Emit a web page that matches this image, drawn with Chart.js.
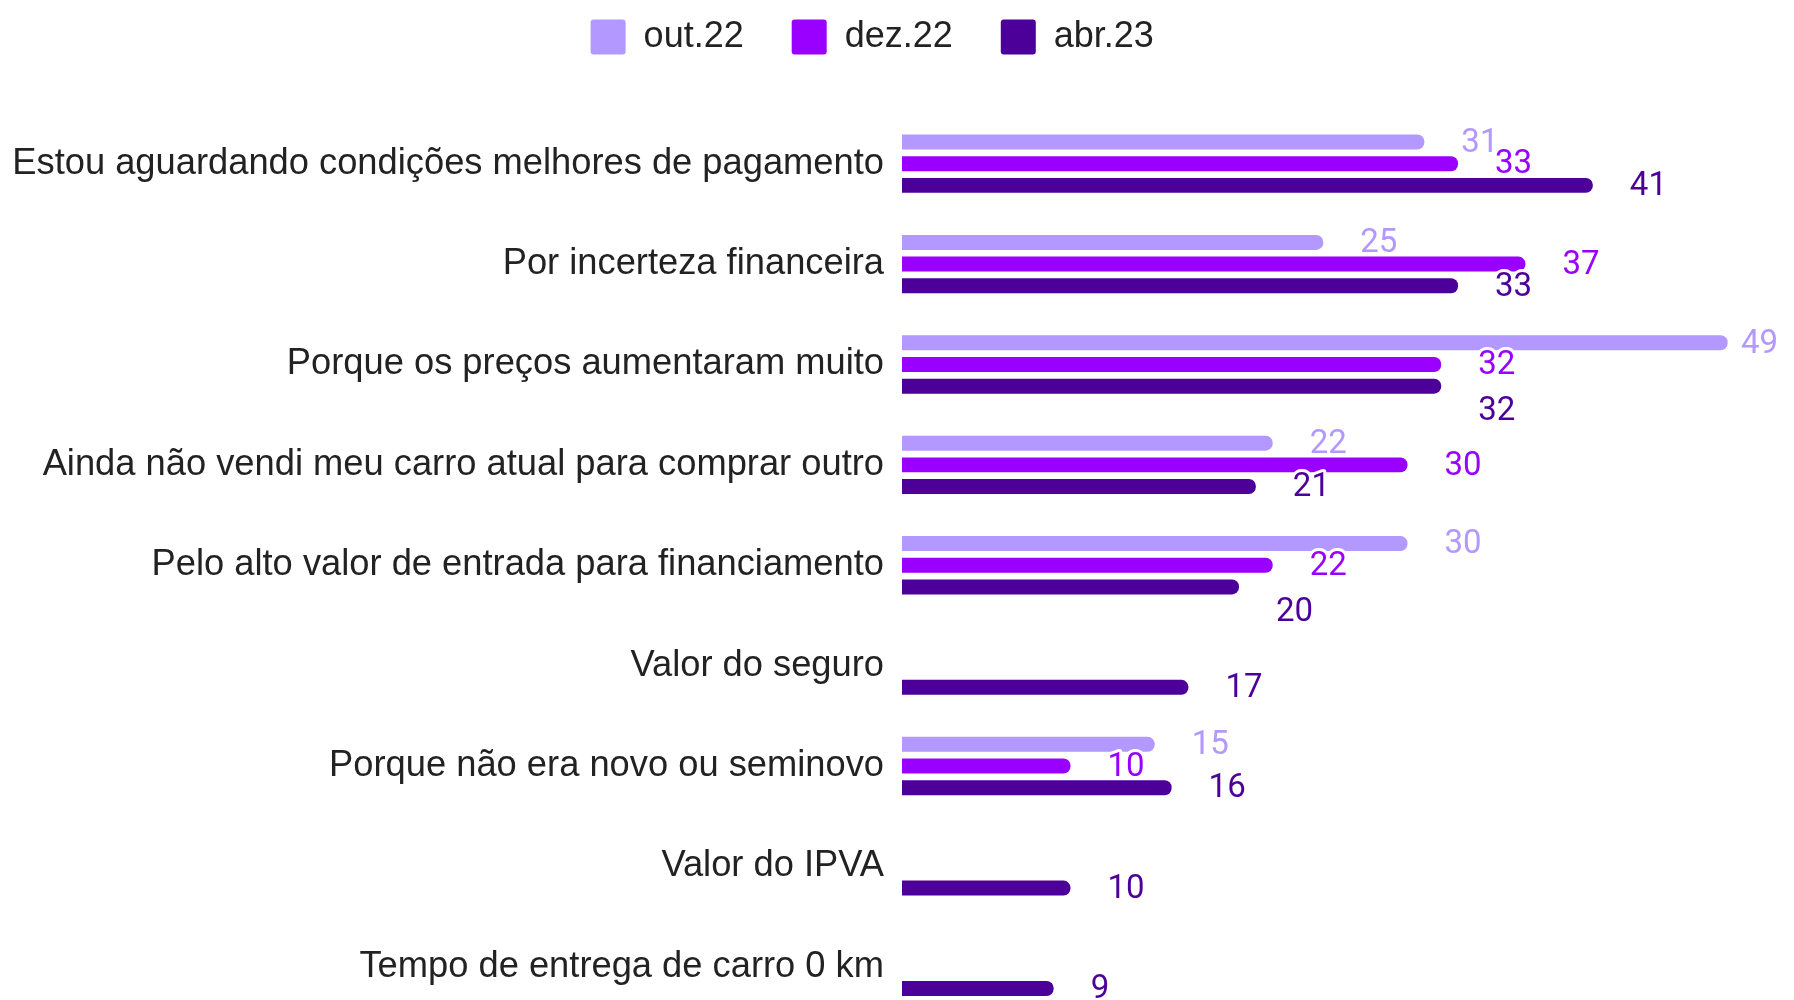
<!DOCTYPE html>
<html>
<head>
<meta charset="utf-8">
<script src="https://cdn.jsdelivr.net/npm/chart.js@4"></script>
<style>
  html, body { margin: 0; padding: 0; background: #fff; overflow: hidden; height: 1000px; }
  #wrap { position: relative; width: 1794px; height: 1017px; }
</style>
</head>
<body>
<div id="wrap"><canvas id="chart"></canvas></div>
<script>
const categories = [
    "Estou aguardando condições melhores de pagamento",
    "Por incerteza financeira",
    "Porque os preços aumentaram muito",
    "Ainda não vendi meu carro atual para comprar outro",
    "Pelo alto valor de entrada para financiamento",
    "Valor do seguro",
    "Porque não era novo ou seminovo",
    "Valor do IPVA",
    "Tempo de entrega de carro 0 km"
];
const seriesNames = ["out.22", "dez.22", "abr.23"];
const out22 = [31, 25, 49, 22, 30, null, 15, null, null];
const dez22 = [33, 37, 32, 30, 22, null, 10, null, null];
const abr23 = [41, 33, 32, 21, 20, 17, 16, 10, 9];
const colors = ["#b399ff", "#9900ff", "#4c0099"];

// rótulos de valor com contorno branco; desce o rótulo quando bate no anterior
const valueLabels = {
    id: 'valueLabels',
    afterDatasetsDraw(chart) {
        const ctx = chart.ctx;
        ctx.save();
        ctx.font = '33px Roboto';
        ctx.textAlign = 'left';
        ctx.textBaseline = 'middle';
        ctx.lineJoin = 'round';
        const h = 24;
        for (let i = 0; i < categories.length; i++) {
            const placed = [];
            chart.data.datasets.forEach((ds, d) => {
                const v = ds.data[i];
                if (v === null || v === undefined) return;
                const el = chart.getDatasetMeta(d).data[i];
                const text = String(v);
                const w = ctx.measureText(text).width;
                // não deixa o rótulo sair pela direita
                const x = Math.min(el.x + 37, chart.width - 16 - w);
                let y = el.y + 1.5;
                for (const p of placed) {
                    const hOver = Math.min(x + w, p.x + p.w) - Math.max(x, p.x);
                    const vOver = Math.abs(y - p.y) < h;
                    if (hOver > 0 && vOver && v <= p.v) {
                        y = el.y + 1.5 + 24;
                    }
                }
                placed.push({x, y, w, v});
                ctx.strokeStyle = '#fff';
                ctx.lineWidth = 6;
                ctx.strokeText(text, x, y);
                ctx.fillStyle = colors[d];
                ctx.fillText(text, x, y);
            });
        }
        ctx.restore();
    }
};

const ctx = document.getElementById('chart').getContext('2d');
new Chart(ctx, {
    type: 'bar',
    data: {
        labels: categories,
        datasets: [out22, dez22, abr23].map((vals, k) => ({
            label: seriesNames[k],
            data: vals,
            backgroundColor: colors[k],
            borderRadius: 7,
            borderSkipped: 'start',
            categoryPercentage: 0.648,
            barPercentage: 0.69
        }))
    },
    options: {
        indexAxis: 'y',
        responsive: true,
        maintainAspectRatio: false,
        animation: false,
        layout: { padding: { top: -29, right: 49.5, bottom: 0, left: 0 } },
        scales: {
            x: {
                position: 'top',
                min: 0,
                max: 50,
                ticks: { display: false },
                grid: { display: false, drawTicks: false },
                border: { display: false },
                afterFit: (scale) => { scale.height = 48.5; }
            },
            y: {
                ticks: {
                    color: '#222',
                    padding: 18,
                    font: { family: '"Liberation Sans", Arial, sans-serif', size: 36.3 }
                },
                grid: { display: false, drawTicks: false },
                border: { display: false },
                afterFit: (scale) => {
                    scale.width = 902;
                    scale.paddingTop = 0;
                    scale.paddingBottom = 0;
                }
            }
        },
        plugins: {
            legend: {
                display: true,
                position: 'top',
                labels: {
                    boxWidth: 35,
                    boxHeight: 35,
                    padding: 48,
                    color: '#222',
                    useBorderRadius: true,
                    borderRadius: 3,
                    font: { family: '"Liberation Sans", Arial, sans-serif', size: 36 }
                }
            },
            tooltip: { enabled: false }
        }
    },
    plugins: [valueLabels]
});
</script>
</body>
</html>
